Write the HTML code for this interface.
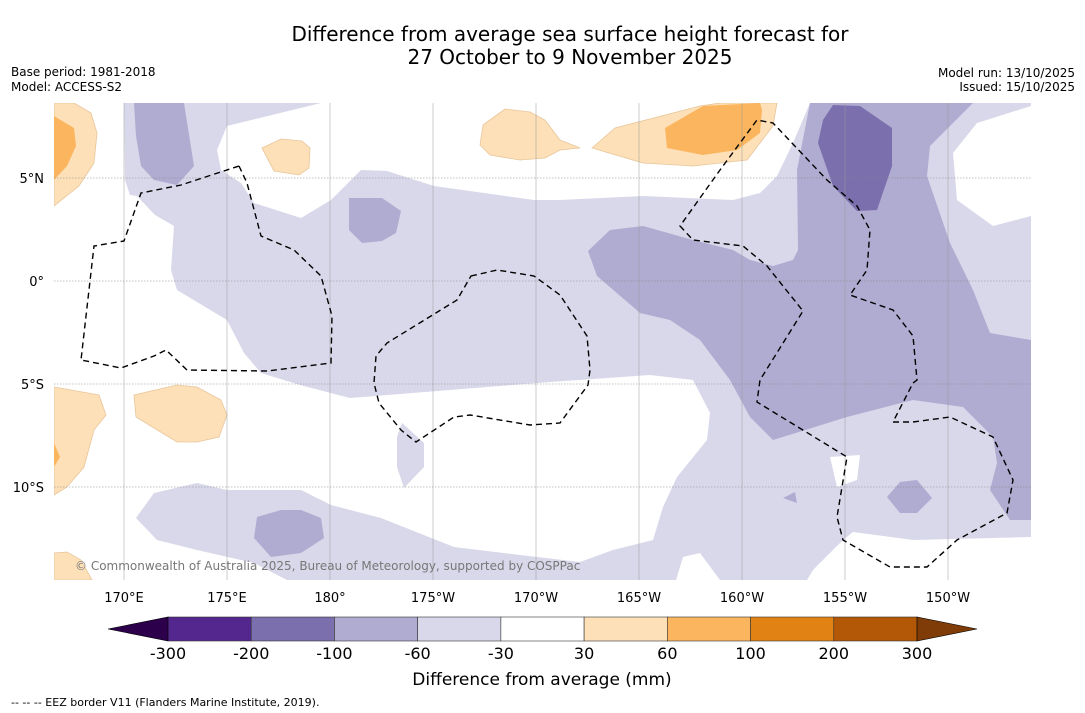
<!DOCTYPE html>
<html><head><meta charset="utf-8"><style>
body{margin:0;background:#fff;width:1085px;height:713px;overflow:hidden;font-family:"DejaVu Sans","Liberation Sans",sans-serif}
svg{display:block}
</style></head><body>
<svg id="root" width="1085" height="713" font-family="DejaVu Sans, Liberation Sans, sans-serif">
<text x="570" y="41" text-anchor="middle" font-size="20">Difference from average sea surface height forecast for</text>
<text x="570" y="64" text-anchor="middle" font-size="20">27 October to 9 November 2025</text>
<text x="11" y="76" font-size="12">Base period: 1981-2018</text>
<text x="11" y="91" font-size="12">Model: ACCESS-S2</text>
<text x="1075" y="77" font-size="12" text-anchor="end">Model run: 13/10/2025</text>
<text x="1075" y="91" font-size="12" text-anchor="end">Issued: 15/10/2025</text>
<defs><clipPath id="mc"><rect x="54" y="103" width="977" height="477"/></clipPath></defs>
<g clip-path="url(#mc)">
<rect x="54" y="103" width="977" height="477" fill="#d8d8ea"/>
<g fill="#ffffff">
<path d="M321,103 L810,103 L793,143 L777,176 L760,193 L733,200 L643,196 L560,200 L534,200 L434,186 L387,171 L361,170 L331,200 L301,218 L254,203 L241,183 L221,170 L217,150 L227,126 Z"/>
<path d="M54,103 L124,103 L125,180 L130,195 L137,196 L155,215 L174,226 L171,270 L177,290 L227,320 L244,353 L261,373 L300,385 L350,398 L450,390 L550,382 L650,375 L693,380 L710,413 L707,440 L677,477 L663,507 L653,540 L613,550 L580,562 L520,555 L454,547 L381,518 L331,505 L301,490 L227,490 L197,483 L154,493 L136,518 L157,540 L197,550 L254,563 L287,580 L54,580 Z"/>
<path d="M683,557 L700,553 L720,580 L676,580 Z"/>
<path d="M1031,106 L977,123 L953,153 L957,200 L993,226 L1031,216 Z"/>
<path d="M830,457 L860,455 L857,480 L837,487 Z"/>
<path d="M853,532 L913,540 L1031,537 L1031,580 L807,580 L813,570 L843,540 Z"/>
</g>
<path d="M402,423 L424,443 L424,467 L404,488 L397,467 L397,437 Z" fill="#d8d8ea"/>
<g fill="#b0abd1">
<path d="M810,103 L973,103 L930,146 L927,176 L950,243 L973,290 L990,333 L1031,340 L1031,520 L1010,520 L990,490 L997,463 L993,437 L963,407 L913,400 L847,417 L773,440 L750,417 L730,380 L700,340 L670,320 L640,313 L597,276 L588,251 L610,230 L643,226 L693,240 L733,250 L750,260 L773,266 L793,260 L798,250 L797,170 Z"/>
<path d="M134,103 L184,103 L194,166 L177,185 L154,180 L141,166 L136,136 Z"/>
<path d="M349,198 L382,198 L401,211 L396,233 L382,241 L362,243 L349,230 Z"/>
<path d="M257,517 L281,510 L301,510 L321,518 L324,538 L301,553 L271,557 L254,538 Z"/>
<path d="M887,497 L900,482 L917,480 L932,498 L917,513 L900,513 Z"/>
<path d="M783,498 L795,492 L797,503 Z"/>
</g>
<path d="M833,105 L860,106 L892,128 L892,166 L877,210 L857,211 L833,186 L818,143 L823,120 Z" fill="#7b6fad"/>
<g fill="#fde0b8" stroke="#e8c59a" stroke-width="0.8">
<path d="M483,125 L505,109 L530,112 L545,120 L560,140 L580,148 L560,150 L545,158 L520,160 L490,155 L480,145 Z"/>
<path d="M592,148 L615,128 L700,106 L720,103 L777,103 L773,126 L747,160 L693,166 L643,163 Z"/>
<path d="M262,148 L281,139 L302,141 L310,148 L309,168 L299,175 L274,171 Z"/>
<path d="M134,395 L177,385 L197,387 L221,400 L227,415 L219,437 L197,442 L177,442 L136,417 Z"/>
<path d="M54,387 L99,395 L106,415 L94,430 L84,467 L67,487 L54,495 Z"/>
<path d="M54,103 L74,103 L91,113 L97,133 L94,163 L79,186 L54,206 Z"/>
<path d="M54,553 L67,552 L81,560 L92,580 L54,580 Z"/>
</g>
<g fill="#fbb55e">
<path d="M665,128 L703,106 L760,103 L762,110 L760,133 L737,150 L703,155 L667,148 Z"/>
<path d="M54,116 L74,128 L76,146 L67,166 L54,180 Z"/>
<path d="M54,443 L60,457 L54,467 Z"/>
</g>
<g stroke="#888" stroke-width="0.6" id="grid"></g>
<g fill="none" stroke="#000" stroke-width="1.4" stroke-dasharray="6,4">
<path d="M239,166 L247,183 L261,236 L294,250 L321,276 L332,316 L331,363 L267,371 L187,370 L166,350 L154,356 L121,368 L81,360 L94,246 L124,241 L141,193 L181,185 Z"/>
<path d="M471,276 L497,270 L534,276 L560,295 L587,336 L590,370 L588,385 L560,423 L530,425 L470,415 L454,417 L416,442 L401,430 L379,403 L374,383 L376,356 L387,343 L457,300 Z"/>
<path d="M680,226 L693,240 L743,246 L767,266 L803,311 L760,380 L757,402 L847,457 L837,517 L843,540 L890,567 L927,567 L957,540 L1007,513 L1013,480 L993,437 L950,417 L913,422 L893,422 L913,383 L917,380 L913,336 L893,310 L850,295 L867,270 L870,230 L857,206 L827,180 L773,123 L757,120 L720,170 Z"/>
</g>
<text x="75" y="570" font-size="12" fill="#777">© Commonwealth of Australia 2025, Bureau of Meteorology, supported by COSPPac</text>
</g>
<g id="axes" font-size="13"></g>
<g id="cbar"></g>
<text x="542" y="685" text-anchor="middle" font-size="17">Difference from average (mm)</text>
<text x="11" y="706" font-size="11">-- -- -- EEZ border V11 (Flanders Marine Institute, 2019).</text>
</svg>
<script>
const lonLabels=["170°E","175°E","180°","175°W","170°W","165°W","160°W","155°W","150°W"];
const lonValues=[170,175,180,185,190,195,200,205,210];
const latLabels=["5°N","0°","5°S","10°S"];
const latValues=[5,0,-5,-10];
const cbBounds=[-300,-200,-100,-60,-30,30,60,100,200,300];
const cbColors=["#54278f","#7b6fad","#b0abd1","#d8d8ea","#ffffff","#fde0b8","#fbb55e","#e08214","#b35806"];
const cbUnder="#2d004b", cbOver="#7f3b08";
const NS="http://www.w3.org/2000/svg";
const xLon=l=>124+(l-170)*20.6;
const yLat=l=>281-l*20.6;
const grid=document.getElementById('grid'), axes=document.getElementById('axes'), cb=document.getElementById('cbar');
function mk(tag,attrs,parent){const e=document.createElementNS(NS,tag);for(const k in attrs)e.setAttribute(k,attrs[k]);parent.appendChild(e);return e;}
lonValues.forEach((v,i)=>{
  const l=mk('line',{x1:xLon(v),x2:xLon(v),y1:103,y2:580,stroke:'#999','stroke-width':0.5},grid);
  
  
  const t=mk('text',{x:xLon(v),y:602,'text-anchor':'middle'},axes);t.textContent=lonLabels[i];
  
  
});
latValues.forEach((v,i)=>{
  const l=mk('line',{x1:54,x2:1031,y1:yLat(v),y2:yLat(v),'stroke-dasharray':'1.5,1.5'},grid);
  
  
  const t=mk('text',{x:44,y:yLat(v)+5,'text-anchor':'end'},axes);t.textContent=latLabels[i];
  
  
});
const cx0=168,cw=(917-168)/cbColors.length,cy=617,ch=24;
cbColors.forEach((c,i)=>{
  const r=mk('rect',{x:cx0+i*cw,y:cy,width:cw,height:ch,fill:c,stroke:'#333','stroke-width':0.6},cb);
  
  
});
const pu=mk('polygon',{points:`${cx0},${cy} ${cx0},${cy+ch} 108,${cy+ch/2}`,fill:cbUnder,stroke:'#000','stroke-width':0.6},cb);


const xe=cx0+cbColors.length*cw;
const po=mk('polygon',{points:`${xe},${cy} ${xe},${cy+ch} 977,${cy+ch/2}`,fill:cbOver,stroke:'#000','stroke-width':0.6},cb);


cbBounds.forEach((b,i)=>{
  const t=mk('text',{x:cx0+i*cw,y:659,'text-anchor':'middle','font-size':16},cb);t.textContent=b;
  
  
});
</script>
</body></html>
